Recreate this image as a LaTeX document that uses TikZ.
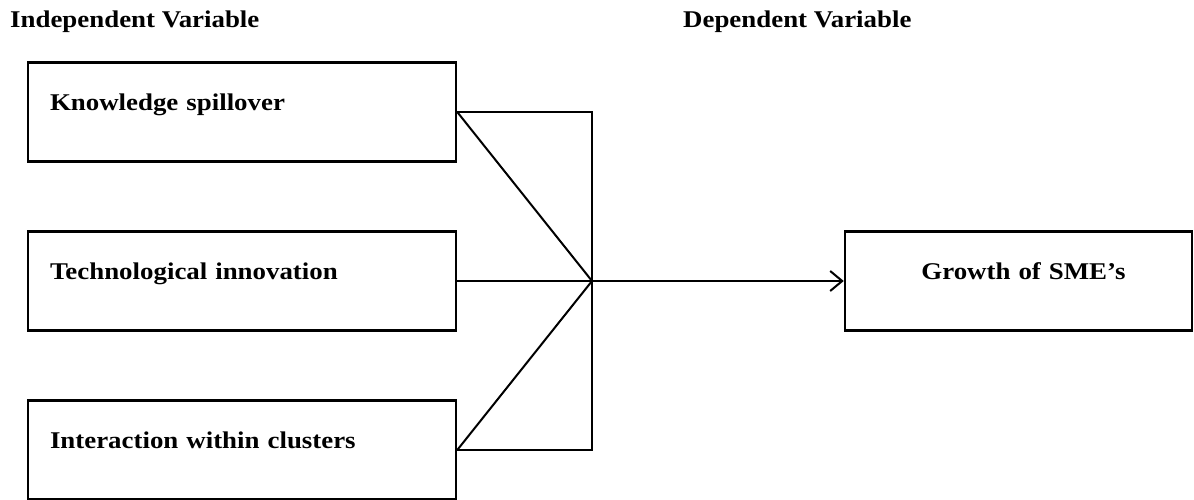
\documentclass[tikz,border=0pt]{standalone}
\usepackage{fontspec}
\setmainfont{Liberation Serif}[FakeStretch=1.12]
\usetikzlibrary{arrows.meta}
\begin{document}
\begin{tikzpicture}[x=1pt, y=-1pt, >={Straight Barb[length=12pt,width=20pt]},
  varbox/.style={draw, line width=2.5pt, minimum width=428pt, minimum height=99pt,
    inner xsep=22pt, text height=17pt, text depth=20pt,
    font=\bfseries\fontsize{24}{28}\selectfont},
  head/.style={anchor=base west, inner sep=0pt, font=\bfseries\fontsize{24}{28}\selectfont},
  link/.style={line width=2pt}]
  \useasboundingbox (0,0) rectangle (1194,500);
  % headings
  \node[head] (indep) at (10,28) {Independent Variable};
  \node[head] (dep) at (683,28) {Dependent Variable};
  % independent variables
  \node[varbox, text width=384pt, align=left] (know) at (242,112) {Knowledge spillover};
  \node[varbox, text width=384pt, align=left] (tech) at (242,281) {Technological innovation};
  \node[varbox, text width=384pt, align=left] (inter) at (242,450) {Interaction within clusters};
  % dependent variable
  \node[varbox, minimum width=347pt, text width=303pt, align=center] (growth) at (1018.5,281) {\hspace*{10pt}Growth of SME’s};
  % joining lines
  \coordinate (hub) at (592,281);
  \draw[link] (know.east) -- (know.east -| hub) -- (inter.east -| hub) -- (inter.east);
  \draw[link] (know.east) -- (hub) -- (inter.east);
  \draw[link] (tech.east) -- (hub);
  \draw[link, ->] (hub) -- (growth.west);
\end{tikzpicture}
\end{document}
